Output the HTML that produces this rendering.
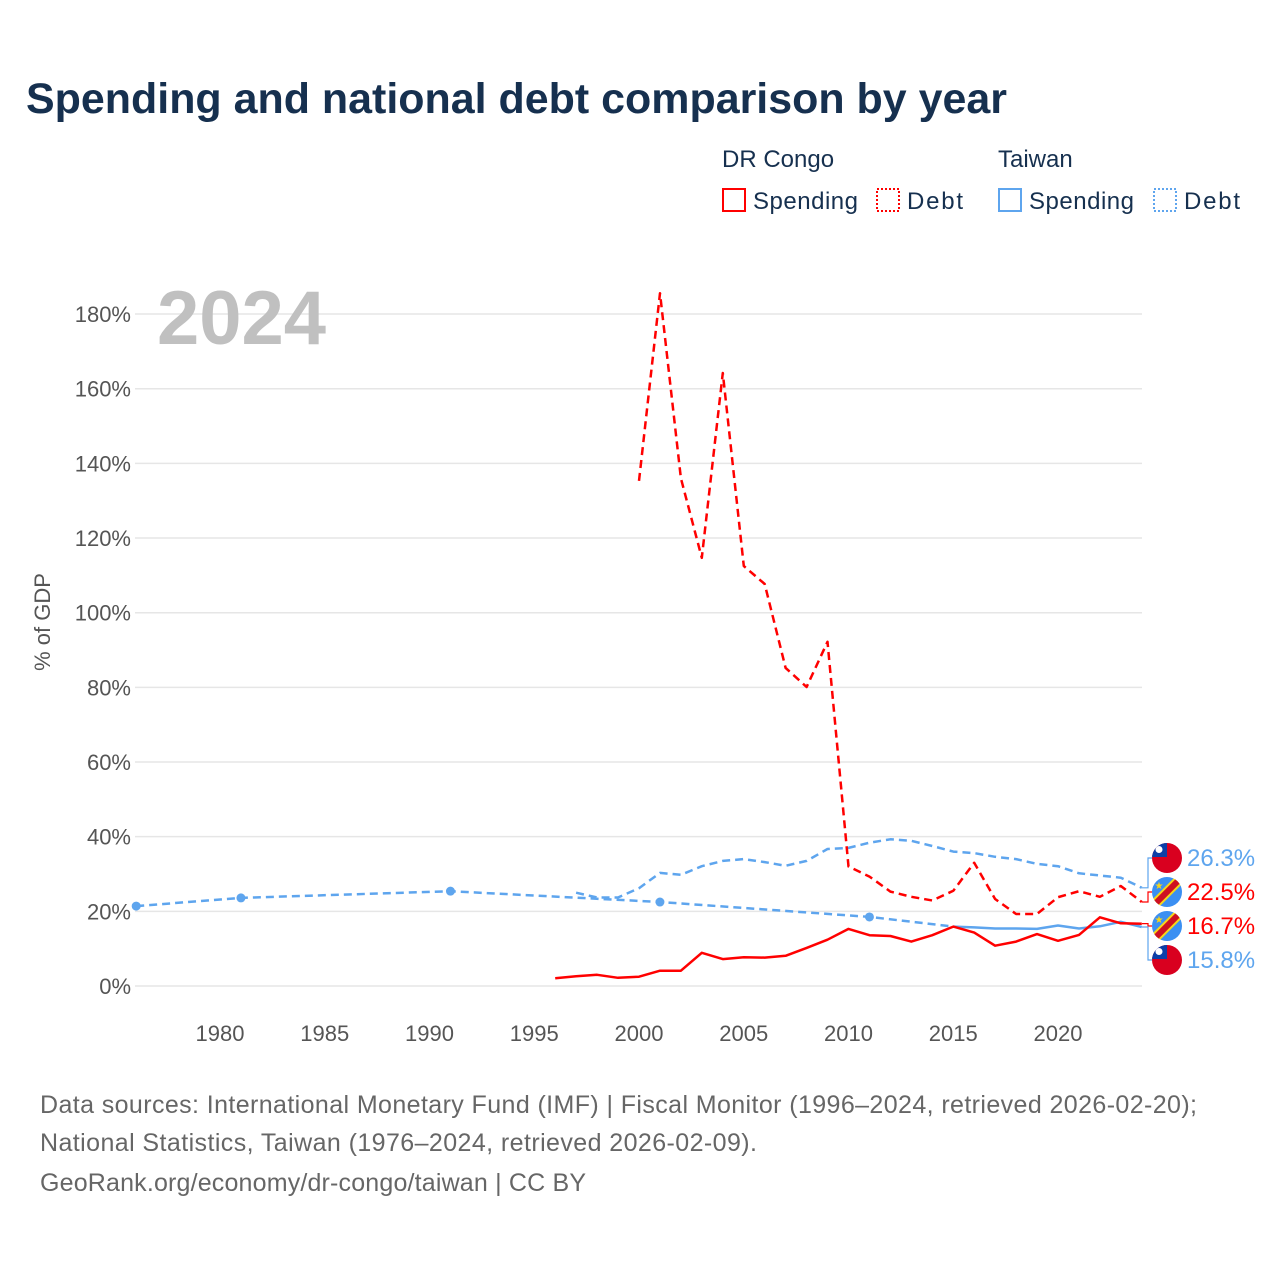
<!DOCTYPE html>
<html><head><meta charset="utf-8"><style>
body{margin:0;background:#fff;width:1280px;height:1280px;overflow:hidden;font-family:"Liberation Sans",sans-serif}
</style></head><body>
<svg width="1280" height="1280" xmlns="http://www.w3.org/2000/svg" font-family="Liberation Sans, sans-serif">
<defs>
<clipPath id="c1"><circle cx="0" cy="0" r="15"/></clipPath>
</defs>
<text x="26" y="113" font-size="43" font-weight="bold" fill="#16304f" textLength="981" lengthAdjust="spacingAndGlyphs">Spending and national debt comparison by year</text>
<g font-size="24" fill="#16304f">
<text x="722" y="167">DR Congo</text>
<text x="998" y="167">Taiwan</text>
<g><rect x="723" y="189" width="22" height="22" fill="none" stroke="#ff0000" stroke-width="2"/><text x="753" y="209" textLength="105">Spending</text></g>
<g><rect x="877" y="189" width="22" height="22" fill="none" stroke="#ff0000" stroke-width="2" stroke-dasharray="2,2"/><text x="907" y="209" textLength="56">Debt</text></g>
<g><rect x="999" y="189" width="22" height="22" fill="none" stroke="#5ea5ee" stroke-width="2"/><text x="1029" y="209" textLength="105">Spending</text></g>
<g><rect x="1154" y="189" width="22" height="22" fill="none" stroke="#5ea5ee" stroke-width="2" stroke-dasharray="2,2"/><text x="1184" y="209" textLength="56">Debt</text></g>
</g>
<g id="grid"></g>
<text x="157" y="344" font-size="76" font-weight="bold" fill="#c0c0c0">2024</text>
<g id="yt" font-size="22" fill="#555" text-anchor="end"></g>
<g id="xt" font-size="22" fill="#555" text-anchor="middle"></g>
<text transform="translate(50,622) rotate(-90)" font-size="22" fill="#555" text-anchor="middle">% of GDP</text>
<g id="series"></g>
<g id="ends"></g>
<g font-size="25" fill="#666" lengthAdjust="spacingAndGlyphs">
<text x="40" y="1113" textLength="1157">Data sources: International Monetary Fund (IMF) | Fiscal Monitor (1996–2024, retrieved 2026-02-20);</text>
<text x="40" y="1151" textLength="717">National Statistics, Taiwan (1976–2024, retrieved 2026-02-09).</text>
<text x="40" y="1191" textLength="546">GeoRank.org/economy/dr-congo/taiwan | CC BY</text>
</g>
</svg>
<script>
const yTicks=[0,20,40,60,80,100,120,140,160,180];
const xTicks=[1980,1985,1990,1995,2000,2005,2010,2015,2020];
const drcSpendYears=[1996,1997,1998,1999,2000,2001,2002,2003,2004,2005,2006,2007,2008,2009,2010,2011,2012,2013,2014,2015,2016,2017,2018,2019,2020,2021,2022,2023,2024];
const drcSpend=[2.1,2.6,3.0,2.2,2.5,4.1,4.1,8.9,7.2,7.7,7.6,8.1,10.2,12.4,15.3,13.6,13.4,11.9,13.6,15.9,14.3,10.8,11.9,13.9,12.1,13.7,18.4,16.8,16.7];
const drcDebtYears=[2000,2001,2002,2003,2004,2005,2006,2007,2008,2009,2010,2011,2012,2013,2014,2015,2016,2017,2018,2019,2020,2021,2022,2023,2024];
const drcDebt=[135.3,185.6,136,114.7,164.2,112.5,107.7,85.2,80.1,92.2,32.0,29.3,25.3,23.9,22.9,25.5,33.0,23.3,19.3,19.3,23.8,25.4,23.9,26.8,22.5];
const twUpperYears=[1997,1998,1999,2000,2001,2002,2003,2004,2005,2006,2007,2008,2009,2010,2011,2012,2013,2014,2015,2016,2017,2018,2019,2020,2021,2022,2023,2024];
const twUpper=[25.0,23.7,23.7,26.2,30.3,29.8,32.1,33.5,34.0,33.2,32.2,33.5,36.7,37.0,38.4,39.3,38.9,37.5,36.0,35.6,34.6,34.0,32.7,32.1,30.2,29.6,29.0,26.3];
const twSparseYears=[1976,1981,1991,2001,2011,2015];
const twSparse=[21.4,23.6,25.4,22.5,18.5,15.9];
const twSolidYears=[2015,2016,2017,2018,2019,2020,2021,2022,2023,2024];
const twSolid=[15.9,15.7,15.4,15.4,15.3,16.2,15.4,16.0,17.2,15.8];
const NS='http://www.w3.org/2000/svg';
const X=y=>136.2+(y-1976)*20.95;
const Y=v=>986-v*3.733;
function mk(t,a,p){const e=document.createElementNS(NS,t);for(const k in a)e.setAttribute(k,a[k]);p.appendChild(e);return e;}
const grid=document.getElementById('grid'),yt=document.getElementById('yt'),xt=document.getElementById('xt'),S=document.getElementById('series'),E=document.getElementById('ends');
yTicks.forEach(v=>{const l=mk('line',{x1:135,x2:1142,y1:Y(v),y2:Y(v),stroke:'#e6e6e6','stroke-width':1.5},grid);


const t=mk('text',{x:131,y:Y(v)+8},yt);t.textContent=v+'%';

});
xTicks.forEach(v=>{const t=mk('text',{x:X(v),y:1041},xt);t.textContent=v;

});
function line(ys,vs,col,dash,name){const d=ys.map((y,i)=>(i?'L':'M')+X(y).toFixed(1)+' '+Y(vs[i]).toFixed(1)).join(' ');
const p=mk('path',{d:d,fill:'none',stroke:col,'stroke-width':2.5,'stroke-dasharray':dash||'none','stroke-linejoin':'round'},S);

}
line(twSparseYears,twSparse,'#5ea5ee','8,5','taiwan-debt-dashed-line');
twSparseYears.slice(0,5).forEach((y,i)=>{const c=mk('circle',{cx:X(y),cy:Y(twSparse[i]),r:4.5,fill:'#5ea5ee'},S);

});
line(twUpperYears,twUpper,'#5ea5ee','8,5','taiwan-upper-line');
line(twSolidYears,twSolid,'#5ea5ee','','taiwan-solid-line');
line(drcDebtYears,drcDebt,'#ff0000','8,5','drc-debt-line');
line(drcSpendYears,drcSpend,'#ff0000','','drc-spending-line');
const ends=[[twUpper[twUpper.length-1],858,'#5ea5ee','tw'],[drcDebt[drcDebt.length-1],892,'#ff0000','cd'],[drcSpend[drcSpend.length-1],926,'#ff0000','cd'],[twSolid[twSolid.length-1],960,'#5ea5ee','tw']];
ends.forEach(([v,ly,col,f])=>{const yv=Y(v);
const g=mk('g',{},E);


mk('path',{d:`M1142 ${yv} H1148 V${ly} H1152`,fill:'none',stroke:col,'stroke-width':1.2},g);
const fl=mk('g',{transform:`translate(1167,${ly})`},g);
const c=mk('g',{'clip-path':'url(#c1)'},fl);
if(f==='tw'){mk('rect',{x:-16,y:-16,width:32,height:32,fill:'#d9001f'},c);mk('rect',{x:-16,y:-16,width:16,height:15,fill:'#0c3fa8'},c);mk('circle',{cx:-8,cy:-8.5,r:3.5,fill:'#fff'},c);}
else{mk('rect',{x:-16,y:-16,width:32,height:32,fill:'#3b8ff2'},c);mk('line',{x1:-17,y1:17,x2:17,y2:-17,stroke:'#f7d618','stroke-width':10},c);mk('line',{x1:-17,y1:17,x2:17,y2:-17,stroke:'#ce1021','stroke-width':6},c);mk('text',{x:-8,y:-3,'font-size':10,fill:'#f7d618','text-anchor':'middle'},c).textContent='★';}
const t=mk('text',{x:1187,y:ly+8,'font-size':24,fill:col},g);t.textContent=v.toFixed(1)+'%';});
</script>
</body></html>
